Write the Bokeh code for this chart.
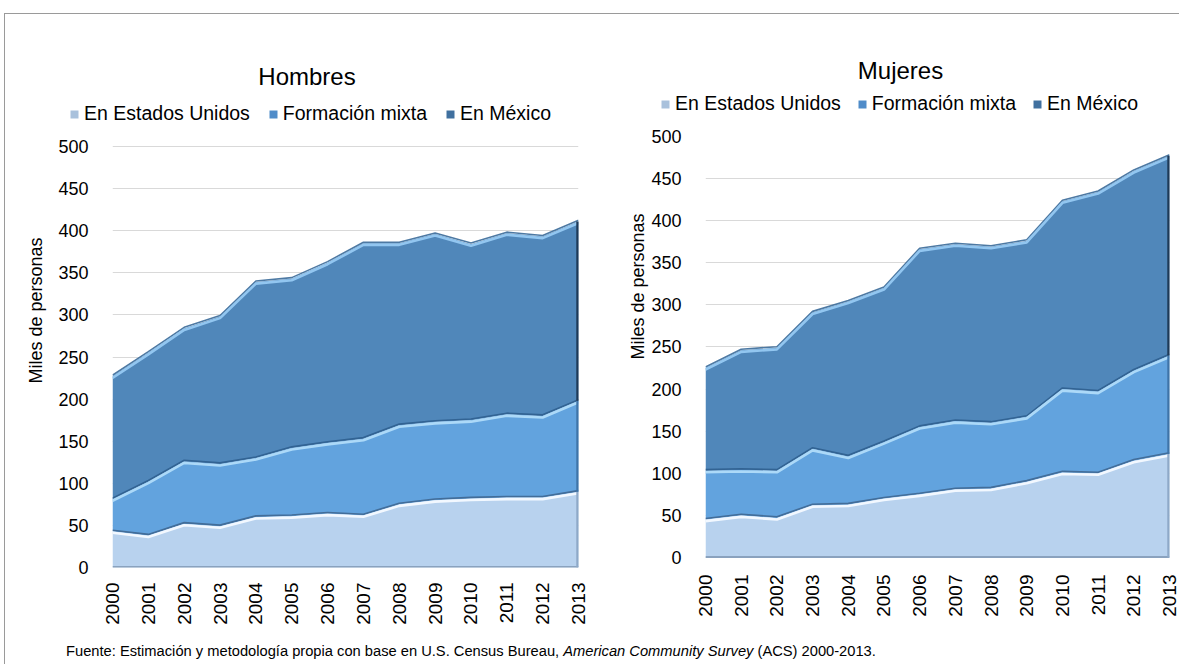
import numpy as np
from bokeh.plotting import figure
from bokeh.models import Range1d, FixedTicker, Legend, LegendItem, Label, Div, Title
from bokeh.layouts import row, column
from bokeh.embed import file_html
from bokeh.resources import INLINE

# ---------------- data ----------------
years = list(range(2000, 2014))
year_labels = [str(y) for y in years]
series_names = ["En Estados Unidos", "Formación mixta", "En México"]
y_ticks = list(range(0, 501, 50))

# Hombres (miles de personas)
h_us = [43, 38, 52, 49, 60, 61, 64, 62, 75, 80, 82, 83, 83, 90]
h_mixta = [38, 64, 74, 74, 70, 81, 84, 91, 94, 93, 93, 99, 97, 108]
h_mexico = [146, 153, 158, 175, 209, 201, 214, 232, 216, 223, 209, 215, 213, 213]

# Mujeres (miles de personas)
m_us = [45, 50, 47, 62, 63, 70, 75, 81, 82, 90, 101, 100, 115, 123]
m_mixta = [58, 54, 56, 67, 57, 67, 80, 81, 78, 77, 99, 97, 107, 117]
m_mexico = [122, 142, 146, 162, 184, 183, 211, 210, 209, 209, 223, 237, 237, 237]

chart_titles = ["Hombres", "Mujeres"]
y_title = "Miles de personas"
source_note = ('Fuente: Estimación y metodología propia con base en U.S. Census Bureau, '
               '<i>American Community Survey</i> (ACS) 2000-2013.')

FONT = "Liberation Sans"
FILLS = ["#b8d2ee", "#62a3de", "#5087ba"]
DARKS = ["#3f6791", "#2f5f8f", "#3a6a99"]
LIGHTS = ["#f2f8ff", "#acd9f8", "#92c6f0"]
LEG_FILLS = ["#a9c1dc", "#4f8cc9", "#40709f"]

HEAD_W, HEAD_H = 1174, 112
CH_H = 512


def make_chart(us, mixta, mexico, width, mb_left, mb_right, y_lo, y_hi, x_standoff,
               ytitle_offset, ytitle_standoff):
    p = figure(width=width, height=CH_H, x_range=Range1d(2000, 2013), y_range=Range1d(y_lo, y_hi),
               output_backend="svg", toolbar_location=None,
               min_border_left=mb_left, min_border_right=mb_right,
               min_border_top=10, min_border_bottom=71)
    p.title.visible = False
    p.outline_line_color = None

    l1 = np.array(us, dtype=float)
    l2 = l1 + np.array(mixta, dtype=float)
    l3 = l2 + np.array(mexico, dtype=float)
    bottoms = [np.zeros_like(l1), l1, l2]
    tops = [l1, l2, l3]

    for i in range(3):
        p.varea(x=years, y1=bottoms[i], y2=tops[i], fill_color=FILLS[i])
    # bevel-like edges
    for i in range(3):
        p.line(years, tops[i] + 1.3, line_color=DARKS[i], line_width=1.6, line_alpha=0.9)
        p.line(years, tops[i] - 1.8, line_color=LIGHTS[i], line_width=2.6)
    p.line([years[0], years[-1]], [0.6, 0.6], line_color="#8aa2be", line_width=2)
    for i in range(3):
        p.line([years[-1] - 0.02, years[-1] - 0.02], [bottoms[i][-1], tops[i][-1]],
               line_color=["#8ea9c8", "#3f74a8", "#1e3a58"][i], line_width=3)

    p.xaxis.ticker = FixedTicker(ticks=years)
    p.xaxis.major_label_overrides = {y: s for y, s in zip(years, year_labels)}
    p.xaxis.major_label_orientation = np.pi / 2
    p.xaxis.major_label_text_font = FONT
    p.xaxis.major_label_text_font_size = "19px"
    p.xaxis.major_label_text_color = "#000000"
    p.xaxis.major_label_standoff = x_standoff
    p.xaxis.axis_line_color = None
    p.xaxis.major_tick_line_color = None
    p.xaxis.minor_tick_line_color = None

    p.yaxis.ticker = FixedTicker(ticks=y_ticks)
    p.yaxis.major_label_text_font = FONT
    p.yaxis.major_label_text_font_size = "18px"
    p.yaxis.major_label_text_color = "#000000"
    p.yaxis.major_label_standoff = 18
    p.yaxis.axis_line_color = None
    p.yaxis.major_tick_line_color = None
    p.yaxis.minor_tick_line_color = None

    p.xgrid.grid_line_color = None
    p.ygrid.grid_line_color = "#d9d9d9"
    p.ygrid.grid_line_width = 1.2

    p.add_layout(Title(text=y_title, align="left", offset=ytitle_offset, text_font=FONT,
                       text_font_size="18px", text_font_style="normal", text_color="#000000",
                       standoff=ytitle_standoff), "left")
    return p


# header: chart titles and legends (pixel coordinates)
head = figure(width=HEAD_W, height=HEAD_H, x_range=Range1d(0, HEAD_W), y_range=Range1d(HEAD_H, 0),
              output_backend="svg", toolbar_location=None, x_axis_location=None, y_axis_location=None,
              min_border=0)
head.title.visible = False
head.outline_line_color = None
head.xgrid.grid_line_color = None
head.ygrid.grid_line_color = None

for txt, (tx, ty) in zip(chart_titles, [(301.5, 62), (895, 56)]):
    head.add_layout(Label(x=tx, y=ty, text=txt, text_font=FONT, text_font_size="24px",
                          text_color="#000000", text_align="center", text_baseline="middle"))

# legend proxies: the series themselves, plotted outside the header's visible window
hl1 = np.array(h_us, dtype=float)
hl2 = hl1 + np.array(h_mixta, dtype=float)
hl3 = hl2 + np.array(h_mexico, dtype=float)
proxy_bounds = [(np.zeros_like(hl1), hl1), (hl1, hl2), (hl2, hl3)]
leg_rends = [head.varea(x=years, y1=proxy_bounds[i][0], y2=proxy_bounds[i][1], fill_color=LEG_FILLS[i])
             for i in range(3)]
for loc, sp in [((64, 1), 18), ((655, 11), 16)]:
    lg = Legend(items=[LegendItem(label=series_names[i], renderers=[leg_rends[i]]) for i in range(3)],
                orientation="horizontal", location=loc,
                label_text_font=FONT, label_text_font_size="19.5px", label_text_color="#000000",
                glyph_width=10, glyph_height=10, label_height=12, label_standoff=5,
                spacing=sp, padding=0, margin=0,
                border_line_color=None, background_fill_alpha=0)
    head.add_layout(lg, "center")

p1 = make_chart(h_us, h_mixta, h_mexico, width=619, mb_left=107, mb_right=46,
                y_lo=0, y_hi=511.9, x_standoff=9, ytitle_offset=184, ytitle_standoff=20)
p2 = make_chart(m_us, m_mixta, m_mexico, width=555, mb_left=80, mb_right=10,
                y_lo=-11.9, y_hi=500, x_standoff=1, ytitle_offset=208, ytitle_standoff=2)

foot = Div(text=source_note, width=1160, height=16,
           styles={"font-family": FONT, "font-size": "14.7px", "color": "#000000",
                   "padding-left": "56px", "line-height": "16px", "white-space": "nowrap"})

layout = column(head, row(p1, p2), foot,
                styles={"border-left": "1px solid #9a9a9a", "border-top": "1px solid #9a9a9a",
                        "margin-left": "4px", "margin-top": "13px"})

open("out.html", "w").write(file_html(layout, INLINE))
